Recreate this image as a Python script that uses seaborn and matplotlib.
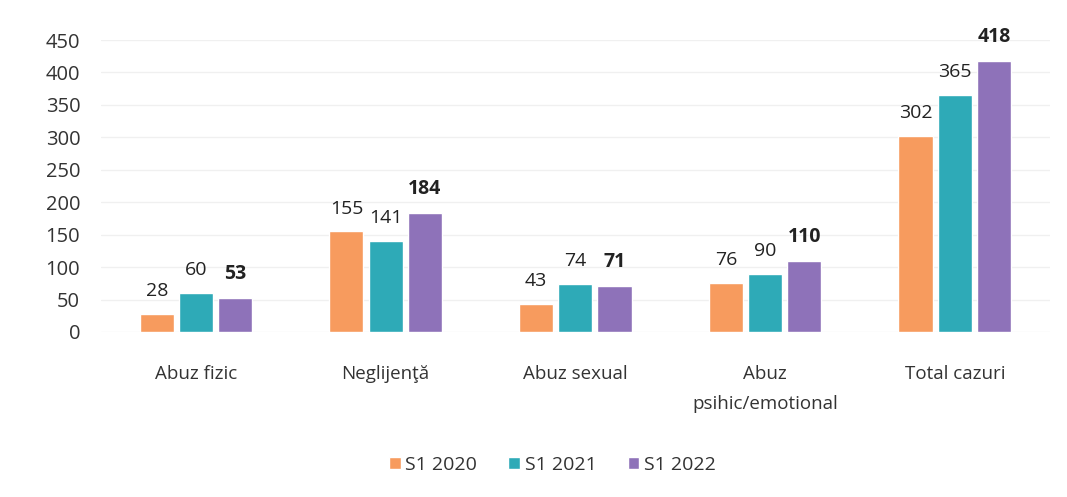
import matplotlib
matplotlib.use("Agg")
import matplotlib.pyplot as plt
import seaborn as sns
import pandas as pd

categories = ["Abuz fizic", "Neglijenţă", "Abuz sexual", "Abuz\npsihic/emotional", "Total cazuri"]
series = ["S1 2020", "S1 2021", "S1 2022"]
s2020 = [28, 155, 43, 76, 302]
s2021 = [60, 141, 74, 90, 365]
s2022 = [53, 184, 71, 110, 418]
yticks = [0, 50, 100, 150, 200, 250, 300, 350, 400, 450]
colors = ["#F79B5E", "#2EAAB7", "#8E72B9"]

rows = []
for name, vals in zip(series, [s2020, s2021, s2022]):
    for c, v in zip(categories, vals):
        rows.append({"cat": c, "series": name, "val": v})
df = pd.DataFrame(rows)

sns.set_style("white")
plt.rcParams['font.family'] = ['Open Sans', 'DejaVu Sans']

fig = plt.figure(figsize=(10.67, 4.97), dpi=100)
ax = fig.add_axes([0.0947, 0.332, 0.889, 0.5875])
sns.barplot(data=df, x="cat", y="val", hue="series", palette=colors,
            width=0.62, gap=0.13, ax=ax, saturation=1, legend=True, errorbar=None)

ax.set_ylim(0, 450)
ax.set_xlim(-0.5, 4.5)
ax.set_yticks(yticks)
ax.set_yticklabels([str(t) for t in yticks], fontsize=14.5, color="#333333")
ax.tick_params(axis="x", labelsize=13.5, colors="#333333", pad=24, length=0)
ax.tick_params(axis="y", length=0, pad=15)
for lab in ax.get_xticklabels():
    lab.set_linespacing(1.8)
ax.set_xlabel("")
ax.set_ylabel("")
ax.yaxis.grid(True, color="#f0f0f0", linewidth=1)
ax.set_axisbelow(True)
for s in ax.spines.values():
    s.set_visible(False)

for i, cont in enumerate(ax.containers):
    ax.bar_label(cont, labels=[str(int(v)) for v in cont.datavalues], padding=10,
                 fontsize=14, color="#222222",
                 fontweight="bold" if i == 2 else "normal")

ax.legend(loc="center", bbox_to_anchor=(0.476, -0.455), ncol=3, frameon=False,
          fontsize=14, handlelength=0.6, handleheight=0.6, handletextpad=0.25,
          columnspacing=1.6, labelcolor="#333333")

fig.savefig("out.png", dpi=100)
